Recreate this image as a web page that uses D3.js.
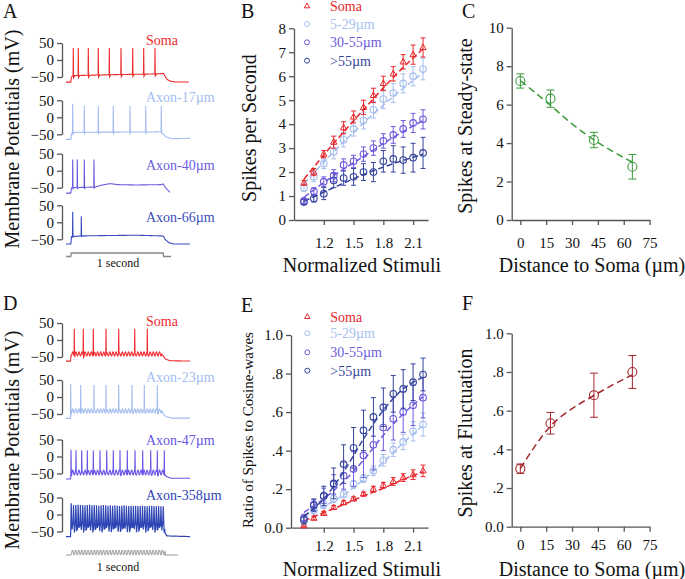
<!DOCTYPE html>
<html><head><meta charset="utf-8">
<script src="https://cdn.jsdelivr.net/npm/d3@7"></script>
<style>
body{margin:0;background:#fff}
svg text{font-family:"Liberation Serif","Times New Roman",serif;fill:#111}
</style>
</head><body>
<svg id="fig" width="685" height="579"></svg>
<script>
// ---------------- DATA ----------------
const stimuli = [1.0,1.1,1.2,1.3,1.4,1.5,1.6,1.7,1.8,1.9,2.0,2.1,2.2];
const groups = ["Soma","5-29µm","30-55µm",">55µm"];
const groupColors = ["#e8262b","#a6bfee","#6d5bdc","#34449c"];

// Panel B: spikes per second
const rateSoma   = [1.55,2.0,2.75,3.25,3.85,4.3,4.7,5.2,5.7,6.1,6.6,6.9,7.2];
const rateSomaE  = [0.1,0.15,0.15,0.25,0.25,0.25,0.3,0.3,0.3,0.3,0.3,0.4,0.4];
const rate529    = [1.35,1.8,2.35,2.85,3.35,3.8,4.15,4.6,5.05,5.3,5.7,6.0,6.3];
const rate529E   = [0.15,0.2,0.2,0.3,0.3,0.3,0.35,0.35,0.4,0.4,0.4,0.4,0.45];
const rate3055   = [0.8,1.2,1.6,1.85,2.3,2.45,2.75,3.0,3.3,3.55,3.8,4.05,4.2];
const rate3055E  = [0.1,0.15,0.2,0.25,0.25,0.25,0.3,0.3,0.3,0.35,0.35,0.4,0.4];
const rate55     = [0.75,0.9,1.1,1.65,1.75,1.8,2.0,2.0,2.45,2.55,2.5,2.6,2.8];
const rate55E    = [0.1,0.15,0.25,0.3,0.3,0.35,0.35,0.4,0.45,0.55,0.55,0.6,0.65];
const fitStimX   = [1.0,1.3,1.6,1.9,2.2];
const rateFitSoma = [1.7,3.2,4.6,5.95,7.15];
const rateFit529  = [1.5,2.85,4.05,5.15,6.15];
const rateFit3055 = [0.95,1.85,2.65,3.45,4.15];
const rateFit55   = [0.78,1.35,1.9,2.35,2.75];

// Panel E: ratio of spikes to cosine waves
const ratioSoma  = [0.01,0.05,0.075,0.105,0.13,0.15,0.175,0.2,0.22,0.24,0.26,0.275,0.295];
const ratioSomaE = [0.005,0.01,0.01,0.01,0.01,0.01,0.01,0.015,0.015,0.02,0.02,0.025,0.03];
const ratio529   = [0.04,0.09,0.12,0.15,0.175,0.225,0.255,0.295,0.35,0.405,0.445,0.5,0.535];
const ratio529E  = [0.02,0.02,0.02,0.02,0.02,0.02,0.02,0.025,0.03,0.035,0.04,0.05,0.06];
const ratio3055  = [0.05,0.12,0.165,0.225,0.27,0.305,0.375,0.43,0.52,0.565,0.6,0.635,0.675];
const ratio3055E = [0.02,0.03,0.04,0.05,0.07,0.09,0.115,0.13,0.12,0.11,0.105,0.105,0.105];
const ratio55    = [0.04,0.115,0.165,0.23,0.33,0.415,0.505,0.575,0.625,0.695,0.72,0.755,0.795];
const ratio55E   = [0.02,0.03,0.05,0.08,0.1,0.105,0.105,0.1,0.1,0.095,0.1,0.095,0.085];
const fitStimX2  = [1.0,1.2,1.4,1.6,1.8,2.0,2.2];
const ratioFitSoma = [0.035,0.078,0.12,0.165,0.205,0.25,0.29];
const ratioFit529  = [0.06,0.11,0.17,0.25,0.34,0.44,0.53];
const ratioFit3055 = [0.08,0.15,0.24,0.35,0.48,0.59,0.68];
const ratioFit55   = [0.06,0.15,0.29,0.46,0.61,0.72,0.78];

// Panels C & F
const distances   = [0,17.5,42.7,65];
const steady      = [7.23,6.31,4.16,2.77];
const steadyE     = [0.37,0.45,0.4,0.64];
const steadyFitX  = [0,17,30,43,55,65];
const steadyFitY  = [7.25,6.0,5.0,4.15,3.5,3.0];
const fluct       = [0.30,0.535,0.68,0.80];
const fluctE      = [0.024,0.056,0.114,0.085];
const fluctFitX   = [0,8,18,30,43,55,65];
const fluctFitY   = [0.30,0.41,0.525,0.61,0.68,0.74,0.785];

// Tick labels
const stimTicks  = [1.2,1.5,1.8,2.1];
const rateTicks  = [0,1,2,3,4,5,6,7,8];
const ratioTicks = [0,0.2,0.4,0.6,0.8,1.0];
const ratioTickLabels = ["0.0",".2",".4",".6",".8","1.0"];
const distTicks  = [0,15,30,45,60,75];
const steadyTicks= [0,2,4,6,8,10];
const fluctTicks = [0,0.2,0.4,0.6,0.8,1.0];
const mvTicks    = [50,0,-50];

// Voltage traces (time in ms, voltage in mV)
const tracesA = [
 {name:"Soma", color:"#ee2b2e", end:1225, ahp:6, rise:2, fall:3, w:1.1,
  base:[[0,-65],[48,-65],[55,-50],[70,-46],[200,-45],[500,-43],[900,-41],[960,-40],[975,-39],[990,-48],[1010,-57],[1040,-62],[1090,-64.5],[1225,-65]],
  spikes:[73,123,223,323,433,550,667,777,890], peaks:[35,35,35,35,35,35,35,35,35]},
 {name:"Axon-17µm", color:"#a3bdf0", end:1240, ahp:4, rise:2, fall:3, w:1.1,
  base:[[0,-65],[48,-65],[55,-47],[100,-44],[900,-43],[955,-42],[975,-50],[1000,-58],[1060,-63],[1240,-62]],
  spikes:[67,183,323,473,640,797,953], peaks:[40,33,33,33,33,33,33]},
 {name:"Axon-40µm", color:"#6a5ee0", end:1040, ahp:3, rise:2, fall:3, w:1.1,
  base:[[0,-66],[48,-66],[55,-50],[290,-48],[350,-43],[440,-38],[520,-41],[700,-42],[950,-41],[972,-39],[990,-48],[1040,-64]],
  spikes:[67,113,183,280], peaks:[33,33,33,33]},
 {name:"Axon-66µm", color:"#3a4cbc", end:1240, ahp:2, rise:2, fall:3, w:1.1,
  base:[[0,-64],[48,-64],[55,-42],[160,-40],[400,-39],[700,-38],[950,-40],[975,-41],[990,-50],[1030,-60],[1080,-64],[1240,-64]],
  spikes:[67,153], peaks:[31,18]}
];
const oscPeriod = 31; // ms, cosine-wave stimulus cycle
const tracesD = [
 {name:"Soma", color:"#ee2b2e", end:1240, ahp:4, rise:2, fall:3, w:1.1, osc:[52,958], oscAmp:6,
  base:[[0,-62],[45,-62],[52,-41],[958,-41],[970,-46],[995,-56],[1040,-61],[1240,-62]],
  spikes:[83,173,273,400,527,687,813], peaks:[33,33,33,33,33,33,33]},
 {name:"Axon-23µm", color:"#a3bdf0", end:1240, ahp:4, rise:2, fall:3, w:1.1, osc:[52,960], oscAmp:6,
  base:[[0,-63],[45,-63],[52,-41],[960,-41],[975,-50],[1000,-58],[1060,-62],[1240,-62]],
  spikes:[47,147,280,400,527,660,783,913], peaks:[38,35,35,35,35,35,35,35]},
 {name:"Axon-47µm", color:"#6655e6", end:1240, ahp:4, rise:2, fall:3, w:1.1, osc:[52,985], oscAmp:7,
  base:[[0,-66],[45,-66],[52,-47],[985,-47],[1000,-58],[1050,-64],[1240,-64]],
  spikes:[50,100,157,213,273,340,407,473,540,613,690,767,847,913,983], peaks:[20,18,18,18,18,18,18,18,18,18,18,18,18,18,18]},
 {name:"Axon-358µm", color:"#2c44b4", end:1240, ahp:18, rise:4, fall:9, w:1.2, osc:[52,985], oscAmp:7,
  base:[[0,-65],[45,-65],[50,-28],[985,-28],[992,-55],[1010,-63],[1240,-65]],
  spikes:[52,75,98,121,144,167,190,213,236,259,282,305,328,351,374,397,420,443,466,489,512,535,558,581,604,627,650,673,696,719,742,765,788,811,834,857,880,903,926,949,972],
  peaks:[33,27,28,29,28,28,27,28,29,27,28,27,26,27,28,27,26,27,26,27,26,25,26,27,26,25,26,25,26,25,25,26,25,24,25,26,25,24,25,24,24]}
];
const stepStim = [[0,0],[48,0],[52,1],[972,1],[976,0],[1050,0]];

// ---------------- DRAW ----------------
const svg = d3.select("#fig");
const AX = "#555";
const ser = "Liberation Serif";

function txt(x,y,s,size,opts={}){
  const t = svg.append("text").attr("x",x).attr("y",y).text(s)
    .style("font-size",size+"px");
  if(opts.anchor) t.attr("text-anchor",opts.anchor);
  if(opts.color) t.style("fill",opts.color);
  if(opts.rot) t.attr("transform",`rotate(-90,${x},${y})`);
  return t;
}

// panel letters
[["A",3,18],["B",241,18],["C",462,18],["D",3,310],["E",241,312],["F",462,310]]
  .forEach(([s,x,y])=>txt(x,y,s,20));

// ---- traces ----
const tx = d3.scaleLinear().domain([0,1000]).range([66,166]);
function interp(base,t){
  for(let i=1;i<base.length;i++){
    if(t<=base[i][0]){
      const a=base[i-1],b=base[i];
      return a[1]+(b[1]-a[1])*(t-a[0])/(b[0]-a[0]);
    }
  }
  return base[base.length-1][1];
}
function buildTrace(d){
  const pts=[];
  for(let t=0;t<=d.end;t+=1){
    let v = interp(d.base,t);
    if(d.osc && t>=d.osc[0] && t<=d.osc[1]) v += -d.oscAmp*Math.cos(2*Math.PI*(t-d.osc[0])/oscPeriod);
    let w = v;
    d.spikes.forEach((ts,i)=>{
      const dt=t-ts, pk=d.peaks[i];
      if(dt>=-d.rise&&dt<0) w = v+(pk-v)*(dt+d.rise)/d.rise;
      else if(dt>=0&&dt<d.fall) w = pk+((v-d.ahp)-pk)*dt/d.fall;
      else if(dt>=d.fall&&dt<d.fall+12) w = Math.min(w, v-d.ahp*(1-(dt-d.fall)/12));
    });
    pts.push([t,w]);
  }
  return pts;
}
function drawTraces(list, zeros, labelY){
  list.forEach((d,i)=>{
    const y = d3.scaleLinear().domain([-50,50]).range([zeros[i]+17,zeros[i]-17]);
    const g = svg.append("g").attr("transform",`translate(62,0)`);
    g.call(d3.axisLeft(y).tickValues(mvTicks).tickSize(5).tickSizeOuter(0).tickPadding(3));
    g.select(".domain").attr("stroke",AX).attr("stroke-width",1.3);
    g.selectAll(".tick line").attr("stroke",AX).attr("stroke-width",1.3);
    g.selectAll(".tick text").style("font-size","15px").style("font-family",ser).attr("fill","#111");
    const line = d3.line().x(p=>tx(p[0])).y(p=>y(p[1]));
    svg.append("path").datum(buildTrace(d)).attr("d",line)
      .attr("fill","none").attr("stroke",d.color).attr("stroke-width",d.w);
    txt(146,labelY[i],d.name,14,{color:d.color});
  });
}
drawTraces(tracesA,[60,117.3,170.7,222.3],[45,102,170,222]);
drawTraces(tracesD,[340,397,456.5,514.5],[326,382,445,500]);
txt(19,139,"Membrane Potentials (mV)",20,{anchor:"middle",rot:true});
txt(19,440,"Membrane Potentials (mV)",20,{anchor:"middle",rot:true});

// stimulus brackets
const sA = d3.scaleLinear().domain([0,1]).range([256.5,253]);
svg.append("path").datum(stepStim)
  .attr("d",d3.line().x(p=>tx(p[0])).y(p=>sA(p[1])))
  .attr("fill","none").attr("stroke","#888").attr("stroke-width",1.3);
const sD = d3.scaleLinear().domain([0,1]).range([555,550]);
const oscStim = [];
for(let t=0;t<=1120;t+=1){
  let v=0;
  if(t>=50&&t<=990) v = 0.5-0.5*Math.cos(2*Math.PI*(t-50)/oscPeriod);
  oscStim.push([t,v]);
}
svg.append("path").datum(oscStim)
  .attr("d",d3.line().x(p=>tx(p[0])).y(p=>sD(p[1])))
  .attr("fill","none").attr("stroke","#888").attr("stroke-width",1);
txt(118,267,"1 second",12,{anchor:"middle"});
txt(118,571,"1 second",12,{anchor:"middle"});

// ---- generic plot helpers ----
function styleAxis(g){
  g.select(".domain").attr("stroke",AX).attr("stroke-width",1.3);
  g.selectAll(".tick line").attr("stroke",AX).attr("stroke-width",1.3);
  g.selectAll(".tick text").style("font-size","15px").style("font-family",ser).attr("fill","#111");
}
function axes(x,y,xt,yt,ytl,xpad){
  const gy = svg.append("g").attr("transform",`translate(${x.range()[0]},0)`)
    .call(d3.axisLeft(y).tickValues(yt).tickSize(5).tickSizeOuter(0).tickPadding(3)
      .tickFormat((d,i)=>ytl?ytl[i]:d));
  styleAxis(gy);
  const gx = svg.append("g").attr("transform",`translate(0,${y.range()[0]})`)
    .call(d3.axisBottom(x).tickValues(xt).tickSize(5).tickSizeOuter(0).tickPadding(xpad)
      .tickFormat(d=>d));
  styleAxis(gx);
}
function tri(g,cx,cy,s,color){
  g.append("path").attr("d",`M${cx},${cy-s}L${cx+s*0.9},${cy+s*0.6}L${cx-s*0.9},${cy+s*0.6}Z`)
    .attr("fill","none").attr("stroke",color).attr("stroke-width",1);
}
function series(x,y,xs,ys,es,color,marker,r,cap,fitX,fitY,dash){
  const g = svg.append("g");
  g.append("path").datum(fitX.map((v,i)=>[v,fitY[i]]))
    .attr("d",d3.line().curve(d3.curveMonotoneX).x(p=>x(p[0])).y(p=>y(p[1])))
    .attr("fill","none").attr("stroke",color).attr("stroke-width",1.5).attr("stroke-dasharray",dash);
  xs.forEach((xv,i)=>{
    const cx=x(xv), cy=y(ys[i]), y1=y(ys[i]+es[i]), y0=y(ys[i]-es[i]);
    g.append("line").attr("x1",cx).attr("x2",cx).attr("y1",y0).attr("y2",y1).attr("stroke",color).attr("stroke-width",1);
    g.append("line").attr("x1",cx-cap).attr("x2",cx+cap).attr("y1",y1).attr("y2",y1).attr("stroke",color).attr("stroke-width",1);
    g.append("line").attr("x1",cx-cap).attr("x2",cx+cap).attr("y1",y0).attr("y2",y0).attr("stroke",color).attr("stroke-width",1);
    if(marker==="tri") tri(g,cx,cy,r,color);
    else g.append("circle").attr("cx",cx).attr("cy",cy).attr("r",r).attr("fill","none").attr("stroke",color).attr("stroke-width",1.1);
  });
}
function legend(x0,ys){
  groups.forEach((n,i)=>{
    const g=svg.append("g");
    if(i===0) tri(g,x0,ys[i],3,groupColors[i]);
    else g.append("circle").attr("cx",x0).attr("cy",ys[i]).attr("r",2.5).attr("fill","none").attr("stroke",groupColors[i]).attr("stroke-width",1);
    txt(x0+23,ys[i]+5,n,14,{color:groupColors[i]});
  });
}

// ---- Panel B ----
{
  const x = d3.scaleLinear().domain([0.9,2.25]).range([294,428]);
  const y = d3.scaleLinear().domain([0,8]).range([220,28.3]);
  axes(x,y,stimTicks,rateTicks,null,12);
  const R=[[rate55,rate55E,rateFit55],[rate3055,rate3055E,rateFit3055],[rate529,rate529E,rateFit529],[rateSoma,rateSomaE,rateFitSoma]];
  R.forEach((s,k)=>{const gi=3-k;
    series(x,y,stimuli,s[0],s[1],groupColors[gi],gi===0?"tri":"circ",gi===0?3.5:3.3,2.5,fitStimX,s[2],"6,3");});
  legend(307,[6,24,42.3,60.7]);
  txt(256,128,"Spikes per Second",20,{anchor:"middle",rot:true});
  txt(362,272,"Normalized Stimuli",20,{anchor:"middle"});
}
// ---- Panel E ----
{
  const x = d3.scaleLinear().domain([0.87,2.25]).range([291,428]);
  const y = d3.scaleLinear().domain([0,1]).range([527.7,335]);
  axes(x,y,stimTicks,ratioTicks,ratioTickLabels,8);
  const R=[[ratioSoma,ratioSomaE,ratioFitSoma],[ratio529,ratio529E,ratioFit529],[ratio3055,ratio3055E,ratioFit3055],[ratio55,ratio55E,ratioFit55]];
  R.forEach((s,gi)=>{
    series(x,y,stimuli,s[0],s[1],groupColors[gi],gi===0?"tri":"circ",gi===0?3.5:3.3,2.5,fitStimX2,s[2],"6,3");});
  legend(307.3,[316.7,333.3,352.3,370.7]);
  txt(253,430,"Ratio of Spikes to Cosine-waves",15,{anchor:"middle",rot:true});
  txt(362,576,"Normalized Stimuli",20,{anchor:"middle"});
}
// ---- Panel C ----
{
  const x = d3.scaleLinear().domain([-5,75]).range([511.7,649.6]);
  const y = d3.scaleLinear().domain([0,10]).range([220,27.7]);
  axes(x,y,distTicks,steadyTicks,null,12);
  series(x,y,distances,steady,steadyE,"#3a9b3a","circ",4.5,4,steadyFitX,steadyFitY,"7,4");
  txt(472,126,"Spikes at Steady-state",20,{anchor:"middle",rot:true});
  txt(592,272,"Distance to Soma (µm)",20,{anchor:"middle"});
}
// ---- Panel F ----
{
  const x = d3.scaleLinear().domain([-5,75]).range([511.7,649.6]);
  const y = d3.scaleLinear().domain([0,1]).range([526.7,333.3]);
  axes(x,y,distTicks,fluctTicks,ratioTickLabels,8);
  series(x,y,distances,fluct,fluctE,"#a3282d","circ",4.5,4,fluctFitX,fluctFitY,"7,4");
  txt(472,433,"Spikes at Fluctuation",20,{anchor:"middle",rot:true});
  txt(592,576,"Distance to Soma (µm)",20,{anchor:"middle"});
}
</script>
</body></html>
